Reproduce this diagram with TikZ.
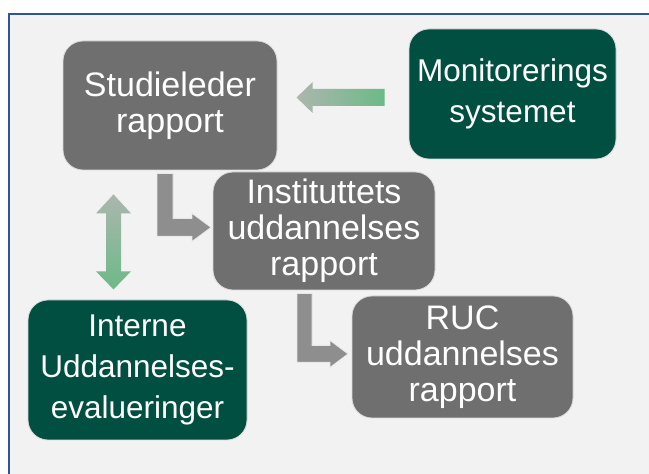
\documentclass[tikz,border=0pt]{standalone}
\usepackage{fontspec}
\setmainfont{Liberation Sans}
\usetikzlibrary{calc}

\definecolor{boxgray}{RGB}{111,111,111}
\definecolor{boxgreen}{RGB}{1,79,64}
\definecolor{arrowgray}{RGB}{142,142,142}
\definecolor{fadegray}{RGB}{172,182,174}
\definecolor{fadegreen}{RGB}{108,186,135}
\definecolor{panel}{RGB}{242,242,242}
\definecolor{frameblue}{RGB}{47,85,151}

\begin{document}
\begin{tikzpicture}[x=0.5pt, y=-0.5pt,
	box/.style={rectangle, rounded corners=10pt, draw=white!85!black, line width=0.4pt, text=white, align=center, inner sep=0pt},
	graybox/.style={box, fill=boxgray, font=\fontsize{17pt}{18pt}\selectfont},
	greenbox/.style={box, fill=boxgreen, font=\fontsize{15.75pt}{20.5pt}\selectfont},
	elbow/.style={fill=arrowgray, draw=white!80!arrowgray, line width=0.4pt}]
	\useasboundingbox (0, 0) rectangle (649, 474);

	\fill [panel] (9, 14) rectangle (649, 474);
	\draw [frameblue, line width=1pt] (9, 474) -- (9, 14) -- (649, 14);

	\node [graybox, minimum width=107pt, minimum height=64.5pt] (stud) at (170, 105.5) {Studieleder\\rapport};
	\node [greenbox, minimum width=103.5pt, minimum height=65pt] (mon) at (512.5, 94) {Monitorerings\\systemet};
	\node [graybox, minimum width=111pt, minimum height=59pt] (inst) at (324, 231) {Instituttets\\uddannelses\\rapport};
	\node [graybox, minimum width=110.5pt, minimum height=61pt] (ruc) at (462.5, 357) {RUC\\uddannelses\\rapport};
	\node [greenbox, minimum width=109.5pt, minimum height=70pt] (int) at (137.5, 370) {Interne\\Uddannelses-\\evalueringer};

	\coordinate (M) at ($(mon.west) + (-24, 3.5)$);
	\coordinate (S) at ($(stud.south) + (-13, 3)$);
	\coordinate (I) at ($(inst.south) + (-27, 3)$);
	\coordinate (V) at ($(stud.south) + (-56.5, 24)$);

	% monitorering -> studieleder
	\shade [shift={(M)}, left color=fadegray, right color=fadegreen] (0, -8.5) -- (-72, -8.5) -- (-72, -15.5) -- (-88, 0) -- (-72, 15.5) -- (-72, 8.5) -- (0, 8.5) -- cycle;
	% studieleder <-> interne
	\shade [shift={(V)}, top color=fadegray, bottom color=fadegreen] (0, 0) -- (17.5, 19) -- (7.5, 19) -- (7.5, 77) -- (17.5, 77) -- (0, 95) -- (-17.5, 77) -- (-7.5, 77) -- (-7.5, 19) -- (-17.5, 19) -- cycle;
	% elbows
	\draw [elbow, shift={(S)}] (0, 0) -- (16, 0) -- (16, 45) -- (35, 45) -- (35, 40) -- (54, 54) -- (35, 68) -- (35, 63) -- (0, 63) -- cycle;
	\draw [elbow, shift={(I)}] (0, 0) -- (15, 0) -- (15, 52) -- (33, 52) -- (33, 47) -- (51, 60.5) -- (33, 74) -- (33, 69) -- (0, 69) -- cycle;
\end{tikzpicture}
\end{document}
